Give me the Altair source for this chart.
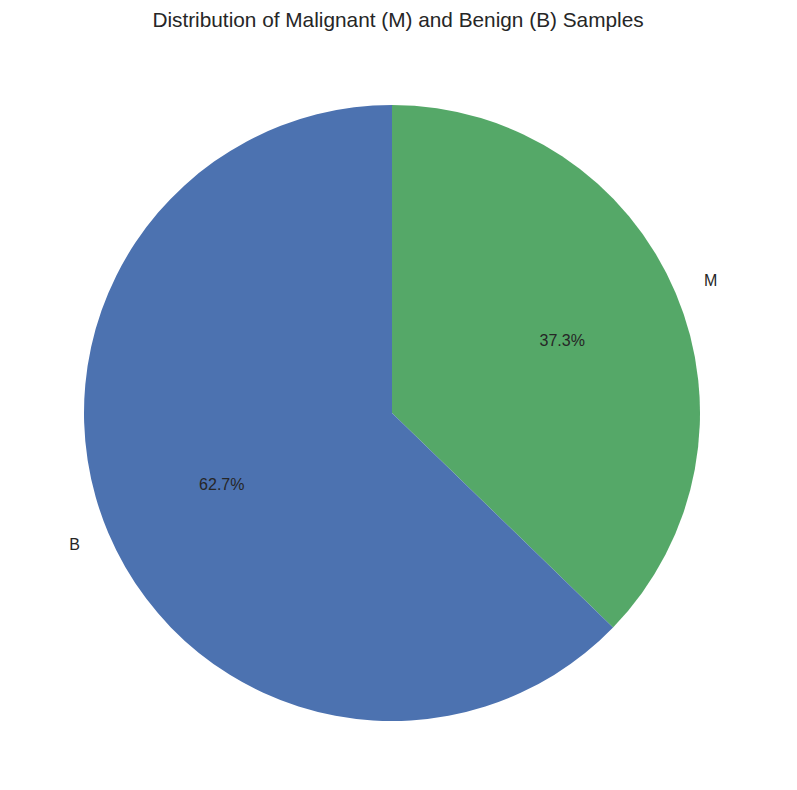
import pandas as pd
import altair as alt

# Data: diagnosis counts (M drawn first, clockwise from 12 o'clock)
diagnosis = ["M", "B"]
counts = [212, 357]
slice_order = [0, 1]
colors = ["#55A868", "#4C72B0"]

df = pd.DataFrame({"diagnosis": diagnosis, "count": counts, "ord": slice_order})
total = df["count"].sum()
df["pct"] = (df["count"] / total * 100).map(lambda v: f"{v:.1f}%")

FONT = "Liberation Sans"
TXT = "#262626"
R = 308
CX, CY = 384, 381

base = alt.Chart(df).encode(
    theta=alt.Theta("count:Q", stack=True),
    order=alt.Order("ord:Q"),
    x=alt.value(CX),
    y=alt.value(CY),
)

pie = base.mark_arc(radius=R).encode(
    color=alt.Color("diagnosis:N", scale=alt.Scale(domain=diagnosis, range=colors), legend=None)
)

pct_text = base.mark_text(radius=R * 0.6, font=FONT, fontSize=16, color=TXT).encode(
    text="pct:N"
)

# name labels: left aligned on the right side, right aligned on the left side
lab_right = base.mark_text(radius=R * 1.1, font=FONT, fontSize=16, color=TXT, align="left").transform_calculate(
    lab="datum.diagnosis == 'M' ? datum.diagnosis : ''"
).encode(text="lab:N")

lab_left = base.mark_text(radius=R * 1.1, font=FONT, fontSize=16, color=TXT, align="right").transform_calculate(
    lab="datum.diagnosis == 'B' ? datum.diagnosis : ''"
).encode(text="lab:N")

chart = alt.layer(pie, pct_text, lab_right, lab_left).properties(
    width=780,
    height=740,
    padding={"top": 2, "left": 0, "right": 0, "bottom": 0},
    title=alt.TitleParams(
        "Distribution of Malignant (M) and Benign (B) Samples",
        font=FONT, fontSize=20.8, fontWeight="normal", color=TXT, anchor="middle", offset=0,
    ),
).configure_view(strokeWidth=0)

chart.save("out.html", embed_options={"renderer": "svg", "actions": False})
